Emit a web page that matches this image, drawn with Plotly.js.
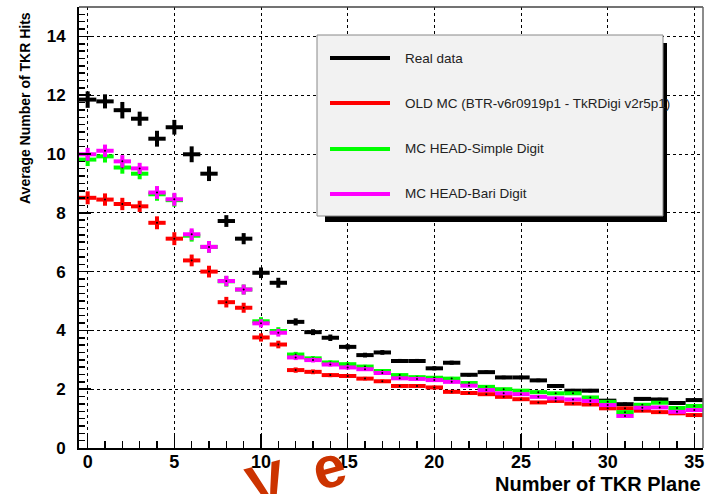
<!DOCTYPE html>
<html><head><meta charset="utf-8">
<script src="https://cdn.plot.ly/plotly-3.0.1.min.js"></script>
<style>html,body{margin:0;padding:0;background:#fff}#chart{width:710px;height:494px}</style>
</head><body><div id="chart"></div>
<script>
// ---- data ----
const planes = [0,1,2,3,4,5,6,7,8,9,10,11,12,13,14,15,16,17,18,19,20,21,22,23,24,25,26,27,28,29,30,31,32,33,34,35];
const realData = [11.85,11.79,11.49,11.20,10.52,10.91,9.99,9.33,7.72,7.12,5.96,5.62,4.29,3.94,3.75,3.44,3.16,3.25,2.96,2.96,2.71,2.90,2.49,2.58,2.40,2.40,2.30,2.11,1.95,1.95,1.61,1.49,1.67,1.65,1.53,1.63];
const oldMC = [8.51,8.45,8.30,8.22,7.66,7.12,6.38,6.00,4.96,4.77,3.76,3.52,2.65,2.59,2.48,2.45,2.36,2.27,2.11,2.11,2.06,1.91,1.87,1.83,1.74,1.66,1.55,1.60,1.51,1.48,1.35,1.35,1.27,1.22,1.18,1.12];
const simpleDigit = [9.81,9.92,9.54,9.33,8.63,8.43,7.22,6.84,5.67,5.39,4.31,3.98,3.18,3.05,2.91,2.85,2.77,2.62,2.48,2.41,2.39,2.36,2.21,2.08,2.00,1.95,1.90,1.86,1.86,1.72,1.57,1.22,1.47,1.54,1.36,1.43];
const bariDigit = [9.99,10.11,9.75,9.51,8.69,8.46,7.27,6.84,5.68,5.39,4.24,3.92,3.08,2.99,2.84,2.74,2.68,2.55,2.37,2.35,2.31,2.25,2.12,1.97,1.86,1.83,1.74,1.69,1.65,1.60,1.46,1.09,1.37,1.38,1.23,1.29];
const errData = [0.28,0.24,0.28,0.24,0.27,0.25,0.27,0.25,0.20,0.19,0.18,0.17,0.12,0.10,0.11,0.09,0.08,0.08,0.07,0.07,0.07,0.07,0.06,0.06,0.06,0.06,0.06,0.06,0.06,0.06,0.06,0.06,0.06,0.06,0.06,0.06];
const errMC = [0.22,0.21,0.21,0.19,0.22,0.22,0.20,0.20,0.18,0.17,0.14,0.13,0.09,0.08,0.07,0.07,0.06,0.06,0.06,0.06,0.06,0.06,0.05,0.05,0.05,0.05,0.05,0.05,0.05,0.05,0.05,0.05,0.05,0.05,0.05,0.05];
const seriesNames = ['Real data','OLD MC (BTR-v6r0919p1 - TkRDigi v2r5p1)','MC HEAD-Simple Digit','MC HEAD-Bari Digit'];
const seriesColors = ['#000000','#ff0000','#00ff00','#ff00ff'];
const xTitle = 'Number of TKR Plane';
const yTitle = 'Average Number of TKR Hits';
const watermark = 'V\u2002e';
const binHalfWidth = 0.5;

// ---- geometry helpers (pixel -> paper) ----
const PL = 79, PT = 7, PW = 624, PH = 441;
const px = x => (x - PL) / PW;
const py = y => (PT + PH - y) / PH;

function histTrace(y, err, color, name) {
  return {
    type: 'scatter', mode: 'markers', x: planes, y: y, name: name,
    marker: {size: 2, color: '#000'},
    error_x: {type: 'constant', value: binHalfWidth, color: color, thickness: 4, width: 0},
    error_y: {type: 'data', array: err, color: color, thickness: 4, width: 0},
    showlegend: false, hoverinfo: 'skip', cliponaxis: true
  };
}

const seriesY = [realData, oldMC, simpleDigit, bariDigit];
const seriesErr = [errData, errMC, errMC, errMC];
const traces = seriesY.map((y, i) => histTrace(y, seriesErr[i], seriesColors[i], seriesNames[i]));

const font = 'Liberation Sans, Arial, Helvetica, sans-serif';
const rowsY = [58, 103, 149, 194];

const shapes = [
  {type:'line', xref:'paper', yref:'paper', x0:0, x1:1, y0:1, y1:1, line:{color:'#444', width:1.5}},
  {type:'line', xref:'paper', yref:'paper', x0:1, x1:1, y0:0, y1:1, line:{color:'#666', width:1.5}},
  {type:'rect', xref:'paper', yref:'paper', layer:'above', x0:px(325), x1:px(667), y0:py(43), y1:py(222), fillcolor:'#000', line:{width:0}},
  {type:'rect', xref:'paper', yref:'paper', layer:'above', x0:px(317), x1:px(663), y0:py(35), y1:py(216), fillcolor:'#f2f2f2', line:{color:'#888', width:1}}
];
const annotations = [];
// watermark first so that it sits below the other texts
annotations.push({xref:'paper', yref:'paper', x:px(296), y:py(475), xanchor:'center', yanchor:'middle', textangle:-15, text:watermark, showarrow:false, font:{family:font, size:58, weight:700, color:'#cc3300'}});
seriesNames.forEach((n, i) => {
  shapes.push({type:'line', xref:'paper', yref:'paper', layer:'above', x0:px(330), x1:px(390), y0:py(rowsY[i]), y1:py(rowsY[i]), line:{color:seriesColors[i], width:4}});
  annotations.push({xref:'paper', yref:'paper', x:px(403), y:py(rowsY[i]), xanchor:'left', yanchor:'middle', text:n, showarrow:false, font:{family:font, size:13.5, color:'#222'}});
});
annotations.push({xref:'paper', yref:'paper', x:px(25), y:py(10), xanchor:'center', yanchor:'top', textangle:-90, text:yTitle, showarrow:false, font:{family:font, size:14, weight:700, color:'#000'}});
annotations.push({xref:'paper', yref:'paper', x:px(703), y:py(484), xanchor:'right', yanchor:'middle', text:xTitle, showarrow:false, font:{family:font, size:20, weight:700, color:'#000'}});

const layout = {
  width: 710, height: 494,
  margin: {l: PL, r: 710 - PL - PW, t: PT, b: 494 - PT - PH, pad: 0},
  paper_bgcolor: '#fff', plot_bgcolor: '#fff',
  font: {family: font, color: '#000'},
  showlegend: false,
  xaxis: {
    range: [-0.5, 35.5], tick0: 0, dtick: 5, ticks: 'inside', ticklen: 14, tickwidth: 1.5, tickcolor: '#000',
    minor: {dtick: 1, ticks: 'inside', ticklen: 7, tickwidth: 1.5, tickcolor: '#000', showgrid: false},
    showgrid: true, gridcolor: '#000', griddash: 'dot', gridwidth: 1,
    zeroline: false, showline: true, linecolor: '#000', linewidth: 2,
    tickfont: {family: font, size: 18, weight: 700, color: '#000'}, ticklabelstandoff: -4
  },
  yaxis: {
    range: [0, 15], tick0: 0, dtick: 2, ticks: 'inside', ticklen: 12, tickwidth: 1.5, tickcolor: '#000',
    minor: {dtick: 0.25, ticks: 'inside', ticklen: 6, tickwidth: 1.5, tickcolor: '#000', showgrid: false},
    showgrid: true, gridcolor: '#000', griddash: 'dot', gridwidth: 1,
    zeroline: false, showline: true, linecolor: '#000', linewidth: 2,
    tickfont: {family: font, size: 17, weight: 700, color: '#000'}, ticklabelstandoff: 8
  },
  shapes: shapes,
  annotations: annotations
};

Plotly.newPlot('chart', traces, layout, {staticPlot: true, displayModeBar: false});
</script></body></html>
